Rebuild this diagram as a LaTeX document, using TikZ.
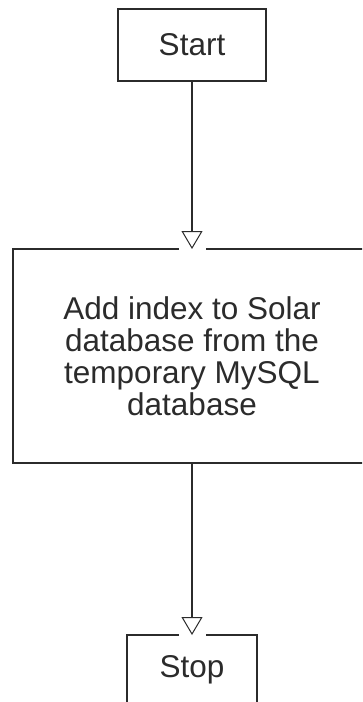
\documentclass[tikz,border=0pt]{standalone}
\usepackage{fontspec}
\setmainfont{Liberation Sans}
\usetikzlibrary{arrows.meta}
\definecolor{ink}{HTML}{2B2B2B}
\tikzset{
  flowbox/.style={draw=ink, line width=1.3pt, rectangle, inner sep=0pt, outer sep=0pt,
    text=ink, align=center, font=\fontsize{31.5}{32}\selectfont},
  flowarrow/.style={draw=ink, line width=1.2pt,
    -{Triangle[open, width=21pt, length=18pt, line width=1pt]}},
  gap/.style={fill=white, draw=none}
}
\begin{document}
\begin{tikzpicture}[x=1pt,y=-1pt]
\useasboundingbox (0,0) rectangle (362,702);
\clip (0,0) rectangle (362,702);
\node[flowbox, minimum width=148pt, minimum height=72pt] (start) at (192,45) {Start};
\node[flowbox, minimum width=358pt, minimum height=214pt] (mid) at (192,356)
  {Add index to Solar\\database from the\\temporary MySQL\\database};
\node[flowbox, minimum width=130pt, minimum height=100pt] (stop) at (192,685) {};
\node[text=ink, font=\fontsize{31.5}{32}\selectfont, anchor=base] (stoplabel) at (192,677) {Stop};
\fill[gap] ([xshift=-13pt,yshift=3pt]mid.north) rectangle ([xshift=14pt,yshift=-3pt]mid.north);
\fill[gap] ([xshift=-13pt,yshift=3pt]stop.north) rectangle ([xshift=14pt,yshift=-3pt]stop.north);
\draw[flowarrow] (start.south) -- (mid.north);
\draw[flowarrow] (mid.south) -- (stop.north);
\end{tikzpicture}
\end{document}
